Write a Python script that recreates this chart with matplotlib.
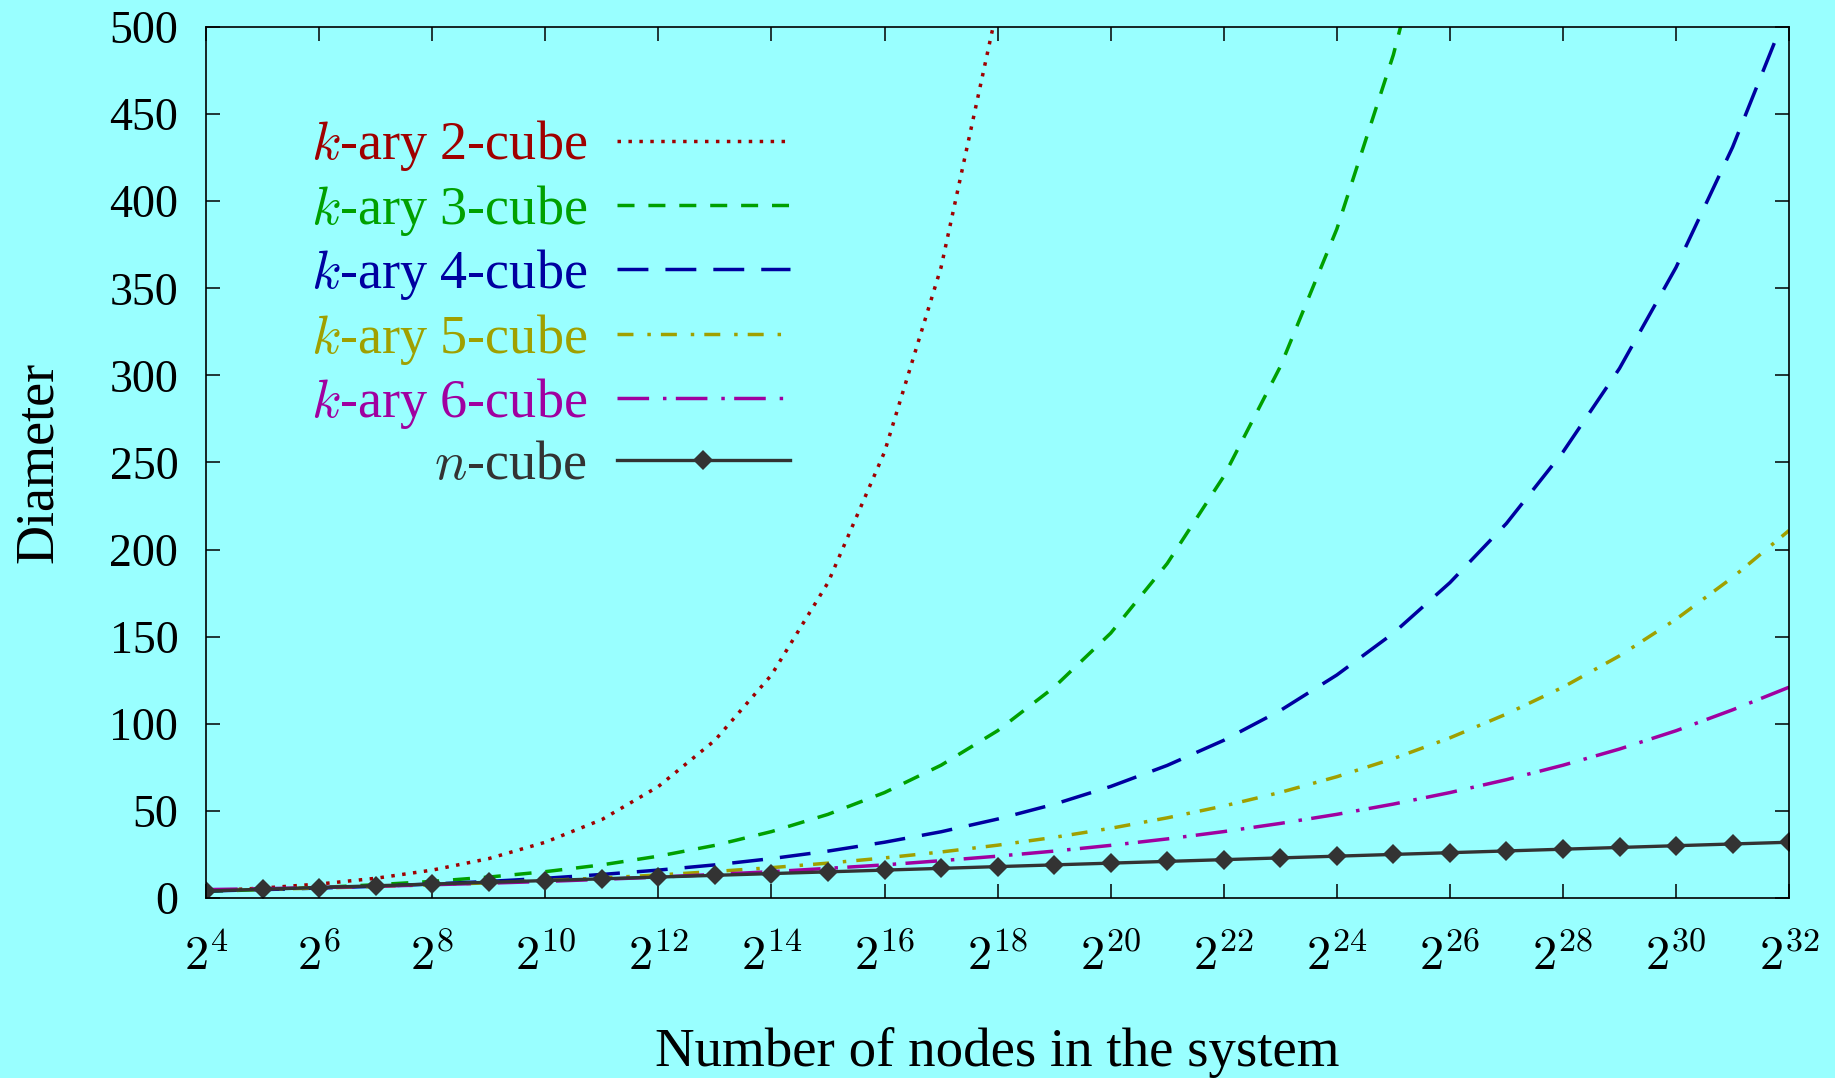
import matplotlib
matplotlib.use('Agg')
import matplotlib.pyplot as plt

# exponent of the number of nodes (2^x)
exponents = list(range(4, 33))

# diameter at every power of two
kary2 = [4, 5.7, 8, 11.3, 16, 22.6, 32, 45, 64, 90.5, 128, 181, 256, 362, 512,
         724, 1024, 1448, 2048, 2896, 4096, 5793, 8192, 11585, 16384, 23170,
         32768, 46341, 65536]
kary3 = [3.8, 4.8, 6, 7.6, 9.5, 12, 15.1, 19, 24, 30.2, 38.1, 48, 60.5, 76.2,
         96, 121, 152, 192, 242, 305, 384, 484, 610, 768, 968, 1219, 1536,
         1935, 2438]
kary4 = [4, 4.8, 5.7, 6.7, 8, 9.5, 11.3, 13.5, 16, 19, 22.6, 26.9, 32, 38,
         45.3, 53.8, 64, 76.1, 90.5, 107.6, 128, 152, 181, 215, 256, 304, 362,
         431, 512]
kary5 = [4.4, 5, 5.7, 6.6, 7.6, 8.7, 10, 11.5, 13.2, 15.2, 17.4, 20, 23, 26.4,
         30.3, 34.8, 40, 46, 52.8, 60.6, 69.6, 80, 91.9, 105.6, 121, 139, 160,
         184, 211]
kary6 = [4.8, 5.3, 6, 6.7, 7.6, 8.5, 9.5, 10.7, 12, 13.5, 15.1, 17, 19, 21.4,
         24, 26.9, 30.2, 33.9, 38.1, 42.8, 48, 53.9, 60.5, 67.9, 76.2, 85.5,
         96, 108, 121]
ncube = [4, 5, 6, 7, 8, 9, 10, 11, 12, 13, 14, 15, 16, 17, 18, 19, 20, 21, 22,
         23, 24, 25, 26, 27, 28, 29, 30, 31, 32]

labels = [r'$k$-ary 2-cube', r'$k$-ary 3-cube', r'$k$-ary 4-cube',
          r'$k$-ary 5-cube', r'$k$-ary 6-cube', r'$n$-cube']
xticks = list(range(4, 33, 2))
yticks = list(range(0, 501, 50))

plt.rcParams['font.family'] = ['Liberation Serif', 'DejaVu Serif']
plt.rcParams['mathtext.fontset'] = 'cm'

bg = '#99ffff'
fig = plt.figure(figsize=(18.35, 10.78), dpi=100, facecolor=bg)
ax = fig.add_axes([0.1123, 0.167, 0.8627, 0.808], facecolor=bg)

lw = 2.5
ax.plot(exponents, kary2, color='#a00000', lw=lw, dashes=(1, 2.15),
        dash_capstyle='butt', label=labels[0])
ax.plot(exponents, kary3, color='#00a000', lw=lw, dashes=(4.9, 4),
        label=labels[1])
ax.plot(exponents, kary4, color='#0000a0', lw=lw, dashes=(8.9, 4.9),
        label=labels[2])
ax.plot(exponents, kary5, color='#a0a000', lw=lw, dashes=(4.6, 4, 1, 2.9),
        label=labels[3])
ax.plot(exponents, kary6, color='#a000a0', lw=lw, dashes=(9.1, 4, 1, 2.7),
        label=labels[4])
ax.plot(exponents, ncube, color='#333333', lw=2.4, marker='D', ms=10,
        mew=0, label=labels[5])

ax.set_xlim(4, 32)
ax.set_ylim(0, 500)
ax.set_xticks(xticks)
ax.set_xticklabels([r'$2^{%d}$' % e for e in xticks], fontsize=35)
ax.set_yticks(yticks)
ax.set_yticklabels([str(v) for v in yticks], fontsize=33)
ax.tick_params(direction='in', length=10, width=1.1, top=True, right=True,
               colors='black')
ax.tick_params(axis='x', pad=26)
ax.tick_params(axis='y', pad=20)
for s in ax.spines.values():
    s.set_linewidth(1.2)

ax.set_xlabel('Number of nodes in the system', fontsize=39.5, labelpad=34)
ax.set_ylabel('Diameter', fontsize=39, labelpad=33)

leg = ax.legend(loc='upper right', bbox_to_anchor=(0.386, 0.926),
                frameon=False, markerfirst=False, fontsize=39,
                handlelength=3.2, handletextpad=0.55, labelspacing=0.175,
                numpoints=1, borderpad=0, labelcolor='linecolor')
for t in leg.get_texts():
    t.set_ha('right')

fig.savefig('out.png', dpi=100, facecolor=bg)
